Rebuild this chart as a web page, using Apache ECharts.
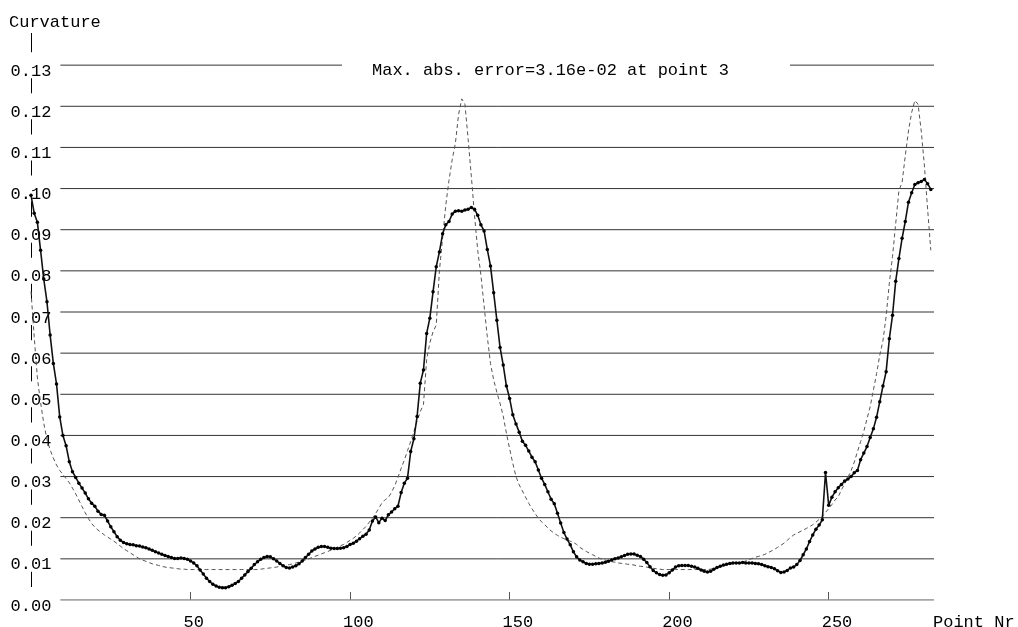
<!DOCTYPE html>
<html>
<head>
<meta charset="utf-8">
<script src="https://cdn.jsdelivr.net/npm/echarts@6/dist/echarts.min.js"></script>
<style>html,body{margin:0;padding:0;background:#fff}#c{width:1018px;height:627px}</style>
</head>
<body>
<div id="c"></div>
<script>
// Point numbers run 0..282 (index of each value)
const measuredCurvature = [
0.0984,0.0940,0.0918,0.0850,0.0780,0.0725,0.0644,0.0575,0.0525,0.0445,
0.0400,0.0375,0.0336,0.0312,0.0298,0.0284,0.0272,0.0260,0.0246,0.0235,
0.0228,0.0216,0.0208,0.0206,0.0192,0.0178,0.0166,0.0154,0.0145,0.0140,
0.0137,0.0135,0.0134,0.0132,0.0131,0.0129,0.0127,0.0124,0.0121,0.0117,
0.0114,0.0111,0.0108,0.0106,0.0103,0.0101,0.0101,0.0102,0.0101,0.0099,
0.0095,0.0090,0.0083,0.0073,0.0063,0.0053,0.0045,0.0038,0.0034,0.0031,
0.0030,0.0030,0.0032,0.0036,0.0040,0.0045,0.0053,0.0061,0.0069,0.0077,
0.0086,0.0093,0.0099,0.0103,0.0106,0.0105,0.0100,0.0095,0.0089,0.0083,
0.0079,0.0078,0.0080,0.0083,0.0088,0.0095,0.0103,0.0111,0.0119,0.0124,
0.0128,0.0130,0.0130,0.0128,0.0126,0.0125,0.0125,0.0126,0.0127,0.0130,
0.0135,0.0138,0.0143,0.0149,0.0155,0.0160,0.0170,0.0192,0.0202,0.0188,
0.0199,0.0193,0.0207,0.0214,0.0222,0.0228,0.0261,0.0284,0.0296,0.0361,
0.0392,0.0446,0.0527,0.0559,0.0648,0.0685,0.0749,0.0810,0.0846,0.0890,
0.0912,0.0920,0.0938,0.0945,0.0946,0.0945,0.0948,0.0950,0.0954,0.0950,
0.0935,0.0912,0.0897,0.0852,0.0812,0.0747,0.0680,0.0614,0.0571,0.0520,
0.0490,0.0450,0.0428,0.0408,0.0386,0.0376,0.0362,0.0347,0.0336,0.0316,
0.0296,0.0281,0.0263,0.0245,0.0234,0.0211,0.0187,0.0164,0.0148,0.0134,
0.0117,0.0105,0.0097,0.0093,0.0089,0.0087,0.0087,0.0088,0.0089,0.0090,
0.0092,0.0094,0.0097,0.0100,0.0102,0.0105,0.0108,0.0111,0.0112,0.0112,
0.0109,0.0106,0.0099,0.0091,0.0081,0.0072,0.0066,0.0062,0.0060,0.0061,
0.0066,0.0073,0.0080,0.0083,0.0084,0.0084,0.0084,0.0082,0.0080,0.0077,
0.0073,0.0070,0.0068,0.0070,0.0075,0.0079,0.0082,0.0085,0.0087,0.0089,
0.0090,0.0090,0.0090,0.0091,0.0090,0.0090,0.0090,0.0089,0.0088,0.0086,
0.0083,0.0081,0.0079,0.0076,0.0071,0.0067,0.0068,0.0072,0.0078,0.0080,
0.0086,0.0096,0.0110,0.0124,0.0142,0.0158,0.0172,0.0182,0.0195,0.0310,
0.0230,0.0250,0.0263,0.0273,0.0281,0.0289,0.0294,0.0300,0.0309,0.0315,
0.0341,0.0357,0.0373,0.0395,0.0416,0.0444,0.0482,0.0520,0.0555,0.0635,
0.0692,0.0775,0.0830,0.0879,0.0920,0.0967,0.0990,0.1010,0.1014,0.1017,
0.1022,0.1012,0.0998
];
const referenceCurvature = [
0.0750,0.0640,0.0540,0.0480,0.0430,0.0390,0.0365,0.0345,0.0328,0.0315,
0.0305,0.0295,0.0285,0.0272,0.0258,0.0243,0.0227,0.0212,0.0198,0.0186,
0.0177,0.0170,0.0164,0.0158,0.0153,0.0148,0.0143,0.0137,0.0131,0.0125,
0.0120,0.0115,0.0110,0.0105,0.0100,0.0097,0.0094,0.0091,0.0088,0.0086,
0.0084,0.0082,0.0080,0.0079,0.0078,0.0077,0.0076,0.0075,0.0075,0.0074,
0.0074,0.0074,0.0074,0.0074,0.0074,0.0074,0.0074,0.0074,0.0074,0.0074,
0.0074,0.0074,0.0074,0.0074,0.0074,0.0074,0.0074,0.0074,0.0074,0.0074,
0.0074,0.0074,0.0075,0.0076,0.0077,0.0078,0.0079,0.0080,0.0082,0.0084,
0.0085,0.0086,0.0088,0.0090,0.0092,0.0095,0.0097,0.0100,0.0103,0.0106,
0.0109,0.0112,0.0115,0.0118,0.0121,0.0124,0.0128,0.0132,0.0135,0.0140,
0.0145,0.0150,0.0156,0.0163,0.0171,0.0179,0.0189,0.0199,0.0210,0.0223,
0.0236,0.0244,0.0249,0.0262,0.0278,0.0298,0.0320,0.0340,0.0363,0.0385,
0.0410,0.0435,0.0458,0.0475,0.0585,0.0625,0.0652,0.0668,0.0800,0.0880,
0.0960,0.1020,0.1070,0.1110,0.1180,0.1218,0.1205,0.1120,0.1030,0.0935,
0.0850,0.0790,0.0715,0.0640,0.0575,0.0535,0.0505,0.0478,0.0447,0.0405,
0.0368,0.0332,0.0300,0.0280,0.0265,0.0250,0.0235,0.0222,0.0210,0.0199,
0.0190,0.0183,0.0175,0.0168,0.0162,0.0157,0.0153,0.0149,0.0146,0.0143,
0.0140,0.0135,0.0128,0.0123,0.0118,0.0114,0.0110,0.0106,0.0102,0.0099,
0.0097,0.0095,0.0093,0.0092,0.0090,0.0089,0.0088,0.0087,0.0086,0.0085,
0.0083,0.0082,0.0081,0.0080,0.0078,0.0077,0.0076,0.0075,0.0074,0.0074,
0.0074,0.0074,0.0074,0.0074,0.0074,0.0074,0.0074,0.0074,0.0074,0.0074,
0.0074,0.0074,0.0074,0.0075,0.0077,0.0079,0.0081,0.0083,0.0085,0.0087,
0.0088,0.0089,0.0090,0.0092,0.0095,0.0098,0.0101,0.0104,0.0106,0.0108,
0.0111,0.0115,0.0119,0.0123,0.0128,0.0133,0.0138,0.0145,0.0152,0.0158,
0.0162,0.0166,0.0170,0.0174,0.0178,0.0183,0.0189,0.0196,0.0203,0.0213,
0.0222,0.0232,0.0243,0.0251,0.0268,0.0282,0.0298,0.0314,0.0335,0.0360,
0.0385,0.0410,0.0440,0.0470,0.0510,0.0550,0.0595,0.0630,0.0690,0.0770,
0.0835,0.0915,0.0995,0.1015,0.1080,0.1140,0.1185,0.1214,0.1205,0.1140,
0.1055,0.0950,0.0850
];
const yTickValues = [0,0.01,0.02,0.03,0.04,0.05,0.06,0.07,0.08,0.09,0.10,0.11,0.12,0.13];
const titleText = 'Max. abs. error=3.16e-02 at point 3';
const yName = 'Curvature';
const xName = 'Point Nr';

const FONT = 'Liberation Mono';
const GRID_START = 9.2, GRID_END = 283;

const gridSeries = yTickValues.map(v => ({
  type: 'line', silent: true, symbol: 'none', z: 1,
  lineStyle: { color: v === 0 ? '#888' : '#333', width: v === 0 ? 1.5 : 1 },
  data: [[GRID_START, v], [GRID_END, v]]
}));

const chart = echarts.init(document.getElementById('c'), null, { renderer: 'canvas' });
chart.setOption({
  animation: false,
  backgroundColor: '#fff',
  title: [
    { text: titleText, left: 342, top: 59, padding: [3, 61, 3, 30], backgroundColor: '#fff',
      textStyle: { fontFamily: FONT, fontSize: 17, fontWeight: 'normal', color: '#000' } },
    { text: yName, left: 9, top: 14, padding: [0, 2, 2, 0], backgroundColor: '#fff',
      textStyle: { fontFamily: FONT, fontSize: 17, fontWeight: 'normal', color: '#000' } },
    { text: xName, left: 933, top: 614, padding: 0,
      textStyle: { fontFamily: FONT, fontSize: 17, fontWeight: 'normal', color: '#000' } }
  ],
  grid: { left: 31, right: 84, top: 24, bottom: 27, containLabel: false, outerBoundsMode: 'none' },
  xAxis: {
    type: 'value', min: 0, max: 283, interval: 50,
    axisLine: { show: false },
    axisTick: { show: true, inside: true, length: 8, lineStyle: { color: '#555', width: 1 } },
    splitLine: { show: false },
    axisLabel: {
      margin: 14, align: 'left', padding: [0, 0, 0, -7],
      fontFamily: FONT, fontSize: 17, color: '#000',
      formatter: v => (v === 0 ? '' : String(v)),
      showMaxLabel: false
    }
  },
  yAxis: {
    type: 'value', min: 0, max: 0.14, interval: 0.01,
    axisLine: { show: true, lineStyle: { color: '#000', width: 1 } },
    axisTick: { show: false },
    splitLine: { show: false },
    axisLabel: {
      margin: 0, align: 'center', verticalAlign: 'middle',
      backgroundColor: '#fff', padding: [0, 2, 0, 2],
      formatter: v => (v > 0.135 ? '' : '{s|}\n{a|' + v.toFixed(2) + '}'),
      rich: {
        s: { height: 12, lineHeight: 12, fontSize: 17, fontFamily: FONT },
        a: { lineHeight: 14, fontSize: 17, fontFamily: FONT, color: '#000' }
      }
    }
  },
  series: gridSeries.concat([
    {
      name: 'reference', type: 'line', z: 3, symbol: 'none', silent: true,
      lineStyle: { color: '#555', width: 1, type: [4, 3] },
      data: referenceCurvature.map((v, i) => [i, v])
    },
    {
      name: 'measured', type: 'line', z: 4, silent: true,
      symbol: 'circle', symbolSize: 3.5,
      itemStyle: { color: '#000' },
      lineStyle: { color: '#111', width: 1.6 },
      data: measuredCurvature.map((v, i) => [i, v])
    }
  ])
});
</script>
</body>
</html>
